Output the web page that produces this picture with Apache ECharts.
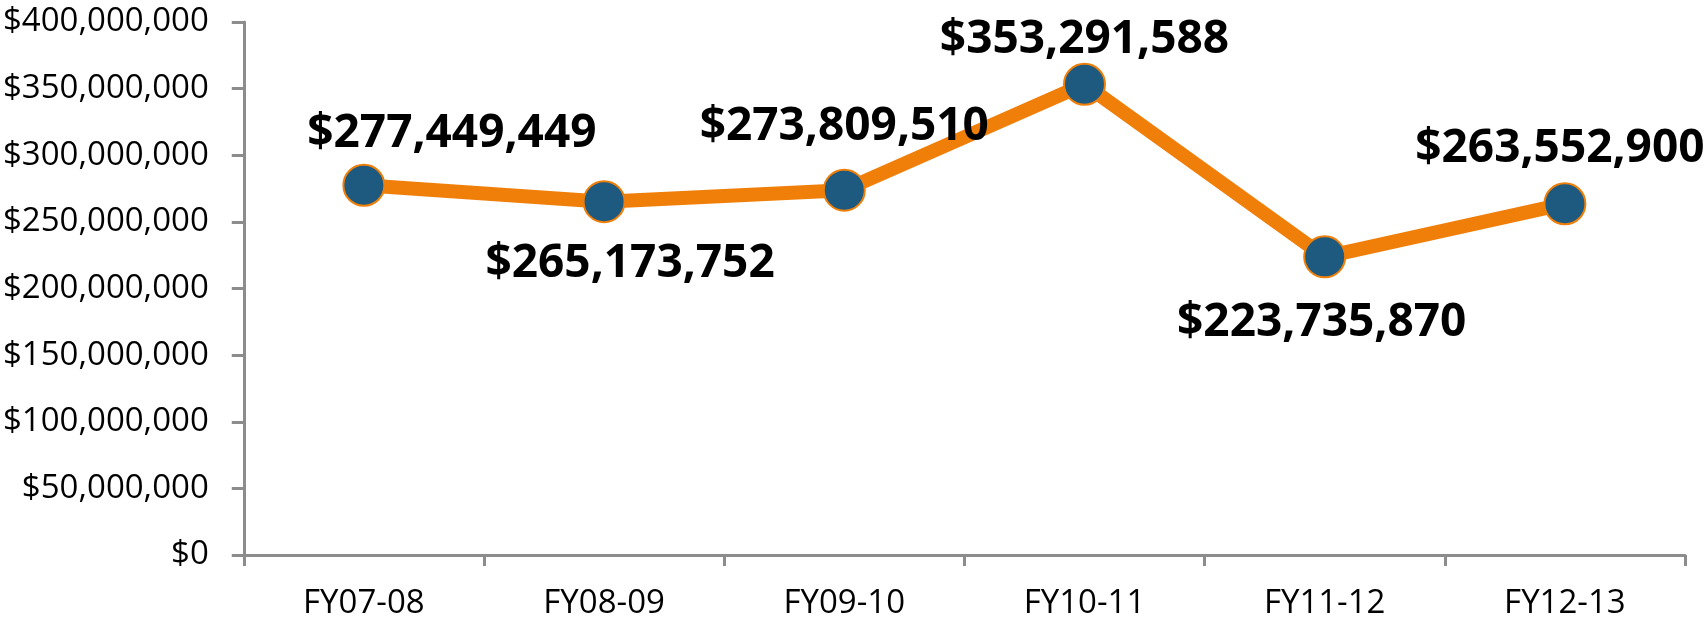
<!DOCTYPE html>
<html lang="en">
<head>
<meta charset="utf-8" />
<script src="https://cdn.jsdelivr.net/npm/echarts@6/dist/echarts.min.js"></script>
<title>FY totals</title>
<style>
  html, body { margin: 0; padding: 0; background: #fff; }
  #chart { width: 1705px; height: 620px; }
</style>
</head>
<body>
<div id="chart"></div>
<script>
// data
var years = ['FY07-08', 'FY08-09', 'FY09-10', 'FY10-11', 'FY11-12', 'FY12-13'];
var amounts = [277449449, 265173752, 273809510, 353291588, 223735870, 263552900];

// label placement around each marker (dx, dy from the point centre)
var labelOffsets = [[88, -51], [26, 62], [0, -63], [0, -44], [-3, 66], [-5, -55]];

var orange = '#F07F09';
var blue = '#1E5A7F';
var axisGray = '#8C8C8C';

function money(v) {
    return '$' + Math.round(v).toString().replace(/\B(?=(\d{3})+(?!\d))/g, ',');
}

var chart = echarts.init(document.getElementById('chart'));

var seriesData = amounts.map(function (v, i) {
    return {
        value: v,
        label: { offset: labelOffsets[i] }
    };
});

var option = {
    animation: false,
    grid: { left: 243, right: 20, top: 22, bottom: 64 },
    xAxis: {
        type: 'category',
        data: years,
        boundaryGap: true,
        axisLine: { lineStyle: { color: axisGray, width: 3 } },
        axisTick: { show: true, length: 11, alignWithLabel: false, lineStyle: { color: axisGray, width: 3 } },
        axisLabel: {
            color: '#000',
            fontFamily: 'Open Sans',
            fontSize: 33,
            margin: 32
        },
        splitLine: { show: false }
    },
    yAxis: {
        type: 'value',
        min: 0,
        max: 400000000,
        interval: 50000000,
        axisLine: { show: true, lineStyle: { color: axisGray, width: 3 } },
        axisTick: { show: true, length: 12, lineStyle: { color: axisGray, width: 3 } },
        axisLabel: {
            color: '#000',
            fontFamily: 'Open Sans',
            fontSize: 33,
            margin: 35,
            formatter: money
        },
        splitLine: { show: false }
    },
    series: [{
        type: 'line',
        data: seriesData,
        symbol: 'circle',
        symbolSize: 41,
        lineStyle: { color: orange, width: 14 },
        itemStyle: { color: blue, borderColor: orange, borderWidth: 2 },
        label: {
            show: true,
            position: 'inside',
            color: '#000',
            fontFamily: 'Open Sans',
            fontWeight: 'bold',
            fontSize: 46,
            formatter: function (p) { return money(p.value); }
        },
        emphasis: { disabled: true }
    }]
};

chart.setOption(option);
</script>
</body>
</html>
